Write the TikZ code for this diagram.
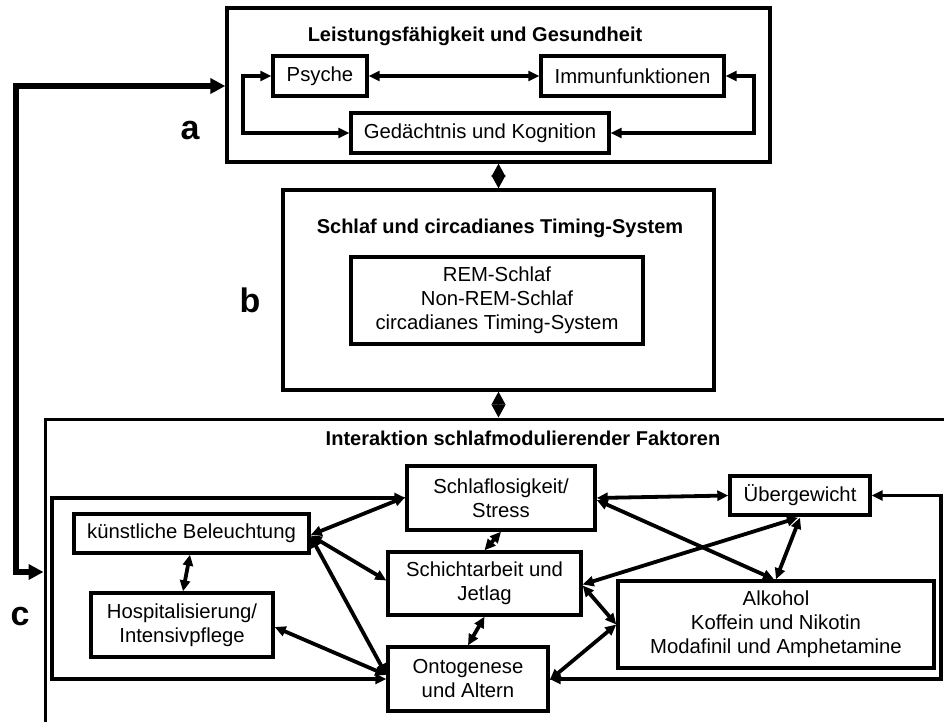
\documentclass[tikz,border=0pt]{standalone}
\usepackage{fontspec}
\setmainfont{Liberation Sans}
\usetikzlibrary{arrows.meta,calc}
\begin{document}
\begin{tikzpicture}[x={(1pt,0)},y={(0,-1pt)},
  box/.style={draw,line width=3.4pt,rectangle,inner sep=0pt,align=center,font=\fontsize{20.3}{24}\selectfont},
  frame/.style={draw,line width=3.4pt,rectangle,inner sep=0pt},
  ttl/.style={font=\fontsize{20}{24}\selectfont\bfseries},
  lbl/.style={font=\fontsize{34}{38}\selectfont\bfseries},
  arr/.style={line width=3.8pt,{Triangle[length=11pt,width=10pt]}-{Triangle[length=11pt,width=10pt]}},
  bigarr/.style={line width=5.5pt,-{Triangle[length=15pt,width=15pt]}},
  dia/.style={line width=1pt,{Triangle[length=13pt,width=14pt]}-{Triangle[length=13pt,width=14pt]}}]
\useasboundingbox (0,0) rectangle (944,722);
\clip (0,0) rectangle (944,722);
% a
\node[frame,minimum width=543pt,minimum height=154pt] (boxa) at (498.5,85) {};
\node[ttl] (ta) at (475,36) {Leistungsfähigkeit und Gesundheit};
\node[box,minimum width=94pt,minimum height=40pt] (psyche) at (320,76) {Psyche};
\node[box,minimum width=183pt,minimum height=40pt] (immun) at (632.5,76) {Immunfunktionen};
\node[box,minimum width=258pt,minimum height=40pt] (ged) at (480,133) {Gedächtnis und Kognition};
\node[lbl] (la) at (190,131) {a};
% b
\node[frame,minimum width=431pt,minimum height=200pt] (boxb) at (498.5,290) {};
\node[ttl] (tb) at (500,228) {Schlaf und circadianes Timing-System};
\node[box,minimum width=292pt,minimum height=87pt] (rem) at (497,300.5) {REM-Schlaf\\Non-REM-Schlaf\\circadianes Timing-System};
\node[lbl] (lb) at (250,300) {b};
% c
\node[frame,line width=3pt,minimum width=915pt,minimum height=321pt] (boxc) at (502.5,579.5) {};
\node[ttl] (tc) at (523,438) {Interaktion schlafmodulierender Faktoren};
\node[lbl] (lc) at (20,617) {c};
\node[box,minimum width=235pt,minimum height=39pt] (bel) at (191.5,533.5) {künstliche Beleuchtung};
\node[box,minimum width=182pt,minimum height=64pt] (hosp) at (182,625) {Hospitalisierung/\\Intensivpflege};
\node[box,minimum width=188pt,minimum height=64pt] (schlaf) at (501,498) {Schlaflosigkeit/\\Stress};
\node[box,minimum width=193pt,minimum height=63pt] (schicht) at (484.5,583.5) {Schichtarbeit und\\Jetlag};
\node[box,minimum width=160pt,minimum height=64pt] (onto) at (468,679) {Ontogenese\\und Altern};
\node[box,minimum width=140pt,minimum height=39pt] (ueber) at (800,495.5) {Übergewicht};
\node[box,minimum width=316pt,minimum height=87pt] (alk) at (776,624.5) {Alkohol\\Koffein und Nikotin\\Modafinil und Amphetamine};
% connectors a
\coordinate (al) at (243,76);
\coordinate (ar) at (754,76);
\draw[arr] (psyche.east) -- (immun.west);
\draw[arr] (ged.west) -| (al) -- (psyche.west);
\draw[arr] (ged.east) -| (ar) -- (immun.east);
% big connector
\coordinate (lt) at (16,86);
\coordinate (lbot) at (16,572);
\draw[bigarr] (lbot) -- (lt) -- (lt -| boxa.west);
\draw[bigarr] (lt) -- (lbot) -- (lbot -| boxc.west);
% diamonds
\draw[dia] (boxa.south) -- (boxb.north);
\draw[dia] (boxb.south) -- (boxb.south |- boxc.north);
% c frames
\coordinate (fl) at (52,679);
\coordinate (fr) at (941,679);
\draw[arr] (schlaf.west) -| (fl) -- (onto.west);
\draw[arr] (ueber.east) -| (fr) -- (onto.east);
% c diagonals
\draw[arr] ($(bel.east)+(0,1.5)$) -- ($(schlaf.west)+(0,-1)$);
\draw[arr] ($(bel.east)+(0,2)$) -- ($(schicht.west)+(0,-3)$);
\draw[arr] ($(bel.east)+(0,3)$) -- ($(onto.west)+(0,-4)$);
\draw[arr] ($(hosp.east)+(0,2)$) -- ($(onto.west)+(0,-4)$);
\draw[arr] ($(bel.south)+(-1.5,0)$) -- ($(hosp.north)+(1,0)$);
\draw[arr] (schlaf.south) -- (schicht.north);
\draw[arr] (schicht.south) -- (onto.north);
\draw[arr] (schlaf.east) -- (ueber.west);
\draw[arr] ($(schlaf.east)+(0,2)$) -- ($(alk.north)+(-2,0)$);
\draw[arr] ($(ueber.south)+(0,1)$) -- (alk.north);
\draw[arr] ($(ueber.south)+(-2,1)$) -- ($(schicht.east)+(0,1)$);
\draw[arr] ($(schicht.east)+(0,2)$) -- (alk.west);
\draw[arr] ($(onto.east)+(0,1)$) -- (alk.west);
\end{tikzpicture}
\end{document}
